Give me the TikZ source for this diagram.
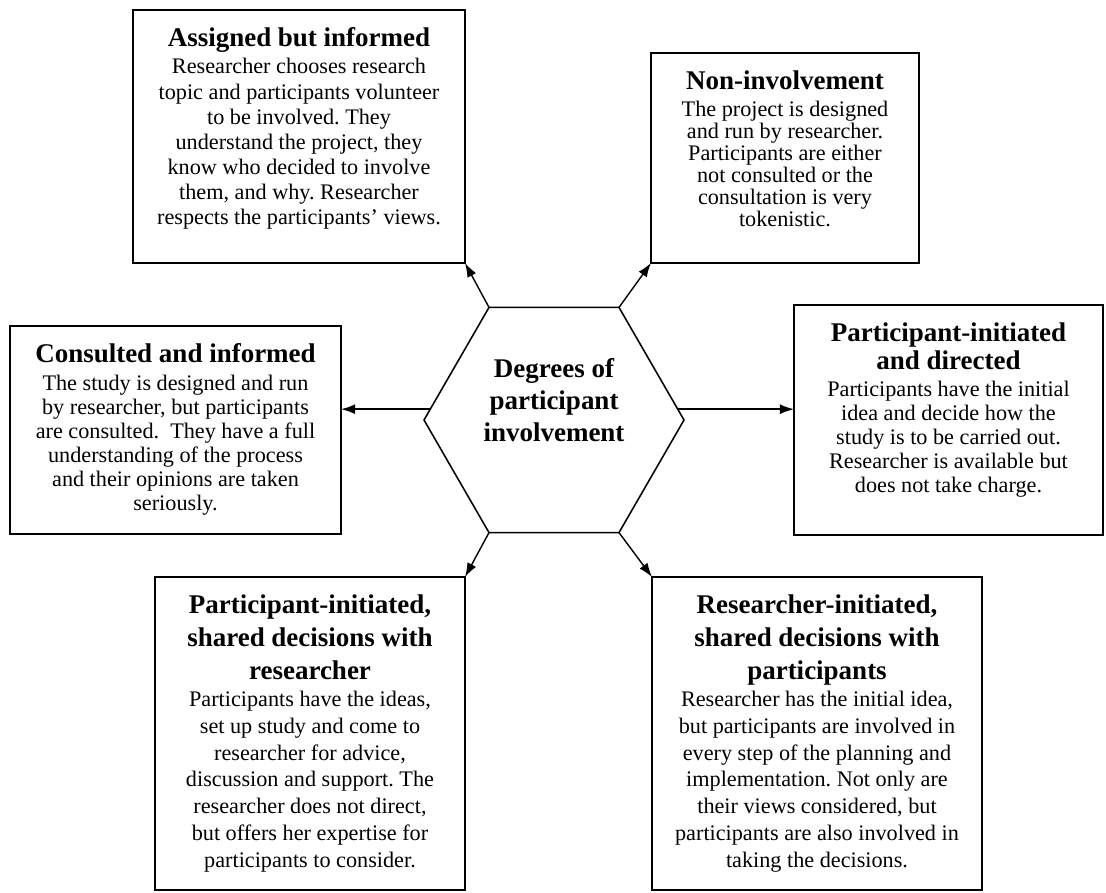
\documentclass[tikz,border=0pt]{standalone}
\usepackage{fontspec}
\setmainfont{Liberation Serif}
\usetikzlibrary{shapes.geometric,arrows.meta}
\frenchspacing

\begin{document}
\begin{tikzpicture}[
  stagebox/.style={draw, line width=1.2pt, inner sep=0pt, outer sep=0pt},
  hexagon/.style={draw, line width=1.1pt, regular polygon, regular polygon sides=6,
    minimum size=6.5cm, inner sep=0pt, outer sep=0pt},
  link/.style={-{Latex[length=10pt,width=7pt]}, line width=1pt}]

\useasboundingbox (0,0) rectangle (27.65,-22.3);

% width, height, title skip, title, body skip, body
\def\stagetext#1#2#3#4#5#6{%
  \parbox[c][#2][t]{#1}{\centering\vspace*{12.5pt}%
    {\fontsize{19.2}{#3}\selectfont\bfseries #4\par}%
    \fontsize{15.8}{#5}\selectfont\vspace{\dimexpr19.5pt-#5\relax}#6\par}}

\node[hexagon] (hex) at (13.85, -10.5) {};
\node[align=center, font=\fontsize{19.2}{22.8}\selectfont\bfseries] (hexlabel)
  at (13.85, -10.0) {Degrees of\\participant\\involvement};

%
\node[stagebox] (assigned) at (7.475, -3.4125) {\stagetext{8.3cm}{6.325cm}{20pt}
  {Assigned but informed}{17.8pt}
  {Researcher chooses research\\topic and participants volunteer\\to be involved. They\\
   understand the project, they\\know who decided to involve\\them, and why. Researcher\\
   respects the participants’ views.}};

\node[stagebox] (noninv) at (19.625, -3.95) {\stagetext{6.7cm}{5.25cm}{20pt}
  {Non-involvement}{15.6pt}
  {The project is designed\\and run by researcher.\\Participants are either\\
   not consulted or the\\consultation is very\\tokenistic.}};

\node[stagebox] (consulted) at (4.3875, -10.75) {\stagetext{8.275cm}{5.2cm}{20pt}
  {Consulted and informed}{17.1pt}
  {The study is designed and run\\by researcher, but participants\\are consulted.~ They have a full\\
   understanding of the process\\and their opinions are taken\\seriously.}};

\node[stagebox] (directed) at (23.7125, -10.5) {\stagetext{7.725cm}{5.75cm}{19.9pt}
  {Participant-initiated\\and directed}{17.1pt}
  {Participants have the initial\\idea and decide how the\\study is to be carried out.\\
   Researcher is available but\\does not take charge.}};

%
\node[stagebox] (partshared) at (7.75, -18.3375) {\stagetext{7.75cm}{7.825cm}{23.5pt}
  {Participant-initiated,\\shared decisions with\\researcher}{19pt}
  {Participants have the ideas,\\set up study and come to\\researcher for advice,\\
   discussion and support. The\\researcher does not direct,\\but offers her expertise for\\
   participants to consider.}};

\node[stagebox] (resshared) at (20.425, -18.3375) {\stagetext{8.25cm}{7.825cm}{23.5pt}
  {Researcher-initiated,\\shared decisions with\\participants}{19pt}
  {Researcher has the initial idea,\\but participants are involved in\\every step of the planning and\\
   implementation. Not only are\\their views considered, but\\participants are also involved in\\
   taking the decisions.}};

% arrows out of the hexagon
\draw[link](hex.120) -- (assigned.south east);
\draw[link](hex.60) -- (noninv.south west);
\draw[link](hex.175) -- (hex.175 -| consulted.east);
\draw[link](hex.5) -- (hex.5 -| directed.west);
\draw[link](hex.240) -- (partshared.north east);
\draw[link](hex.300) -- (resshared.north west);

\end{tikzpicture}
\end{document}
